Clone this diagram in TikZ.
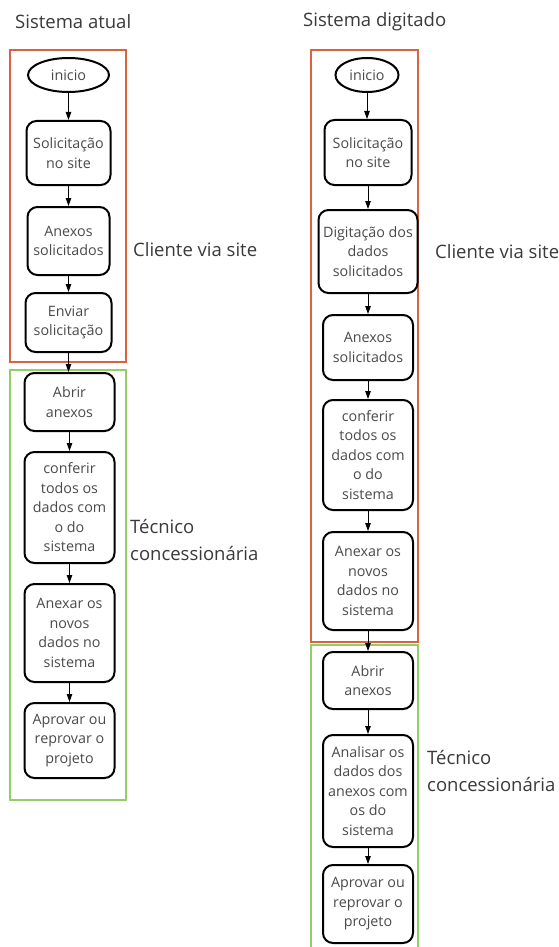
\documentclass[tikz,border=0pt]{standalone}
\usepackage{fontspec}
\setmainfont{Open Sans}
\usetikzlibrary{arrows.meta,shapes.geometric}
\definecolor{redc}{HTML}{D9623F}
\definecolor{greenc}{HTML}{93CF66}
\definecolor{txt}{HTML}{3A3A3A}
\definecolor{ntxt}{HTML}{4A4A4A}
\begin{document}
\begin{tikzpicture}[x=1pt,y=-1pt,
  box/.style={draw=black, line width=2pt, rounded corners=10pt, text=ntxt,
    font=\fontsize{14.3}{19.5}\selectfont, align=center, inner sep=0pt},
  oval/.style={ellipse, draw=black, line width=2pt, text=ntxt,
    font=\fontsize{14.3}{19.5}\selectfont, inner sep=0pt},
  arr/.style={-{Triangle[length=8pt,width=5.5pt]}, line width=0.9pt, black},
  lbl/.style={text=txt, font=\fontsize{18.5}{26.5}\selectfont, align=left, anchor=west, inner sep=0pt},
  redbox/.style={draw=redc, line width=2.2pt},
  greenbox/.style={draw=greenc, line width=2.2pt}]
\useasboundingbox (0,0) rectangle (558,947);
\fill[white] (0,0) rectangle (558,947);
% frames
\draw[redbox] (10,50) rectangle (126,362);
\draw[greenbox] (10,370) rectangle (126,800);
\draw[redbox] (311,50) rectangle (418,642);
\draw[greenbox] (311,645) rectangle (418,952);
% titles and labels
\node[lbl] (t1) at (15,22) {Sistema atual};
\node[lbl] (t2) at (303,22) {Sistema digitado};
\node[lbl] (c1) at (133,250) {Cliente via site};
\node[lbl] (c2) at (435,252) {Cliente via site};
\node[lbl] (k1) at (130,540) {Técnico\\concessionária};
\node[lbl] (k2) at (427,771) {Técnico\\concessionária};
% left column
\node[oval, minimum width=81pt, minimum height=34pt] (a0) at (68.5,75) {inicio};
\node[box, minimum width=84pt, minimum height=64pt] (a1) at (68.5,153) {Solicitação\\no site};
\node[box, minimum width=82pt, minimum height=68pt] (a2) at (68.5,241) {Anexos\\solicitados};
\node[box, minimum width=86pt, minimum height=59pt] (a3) at (68.5,322.5) {Enviar\\solicitação};
\node[box, minimum width=90pt, minimum height=58pt] (a4) at (69.5,402) {Abrir\\anexos};
\node[box, minimum width=90pt, minimum height=111pt] (a5) at (69.5,507.5) {conferir\\todos os\\dados com\\o do\\sistema};
\node[box, minimum width=90pt, minimum height=98pt] (a6) at (69.5,633) {Anexar os\\novos\\dados no\\sistema};
\node[box, minimum width=90pt, minimum height=75pt] (a7) at (69.5,740.5) {Aprovar ou\\reprovar o\\projeto};
% right column
\node[oval, minimum width=63pt, minimum height=34pt] (b0) at (367,75) {inicio};
\node[box, minimum width=87pt, minimum height=65pt] (b1) at (368,152.5) {Solicitação\\no site};
\node[box, minimum width=99pt, minimum height=83pt] (b2) at (368,251.5) {Digitação dos\\dados\\solicitados};
\node[box, minimum width=90pt, minimum height=65pt] (b3) at (368,347.5) {Anexos\\solicitados};
\node[box, minimum width=90pt, minimum height=110pt] (b4) at (368,455) {conferir\\todos os\\dados com\\o do\\sistema};
\node[box, minimum width=90pt, minimum height=98pt] (b5) at (368,581) {Anexar os\\novos\\dados no\\sistema};
\node[box, minimum width=90pt, minimum height=57pt] (b6) at (368,680.5) {Abrir\\anexos};
\node[box, minimum width=90pt, minimum height=112pt] (b7) at (368,791) {Analisar os\\dados dos\\anexos com\\os do\\sistema};
\node[box, minimum width=90pt, minimum height=78pt] (b8) at (368,904) {Aprovar ou\\reprovar o\\projeto};
% arrows
\draw[arr] (a0.south) -- (a0.south |- a1.north);
\draw[arr] (a1) -- (a2);
\draw[arr] (a2) -- (a3);
\draw[arr] (a3.south) -- (a3.south |- a4.north);
\draw[arr] (a4) -- (a5);
\draw[arr] (a5) -- (a6);
\draw[arr] (a6) -- (a7);
\draw[arr] (b0.south) -- (b0.south |- b1.north);
\draw[arr] (b1) -- (b2);
\draw[arr] (b2) -- (b3);
\draw[arr] (b3) -- (b4);
\draw[arr] (b4) -- (b5);
\draw[arr] (b5) -- (b6);
\draw[arr] (b6) -- (b7);
\draw[arr] (b7) -- (b8);
\end{tikzpicture}
\end{document}
